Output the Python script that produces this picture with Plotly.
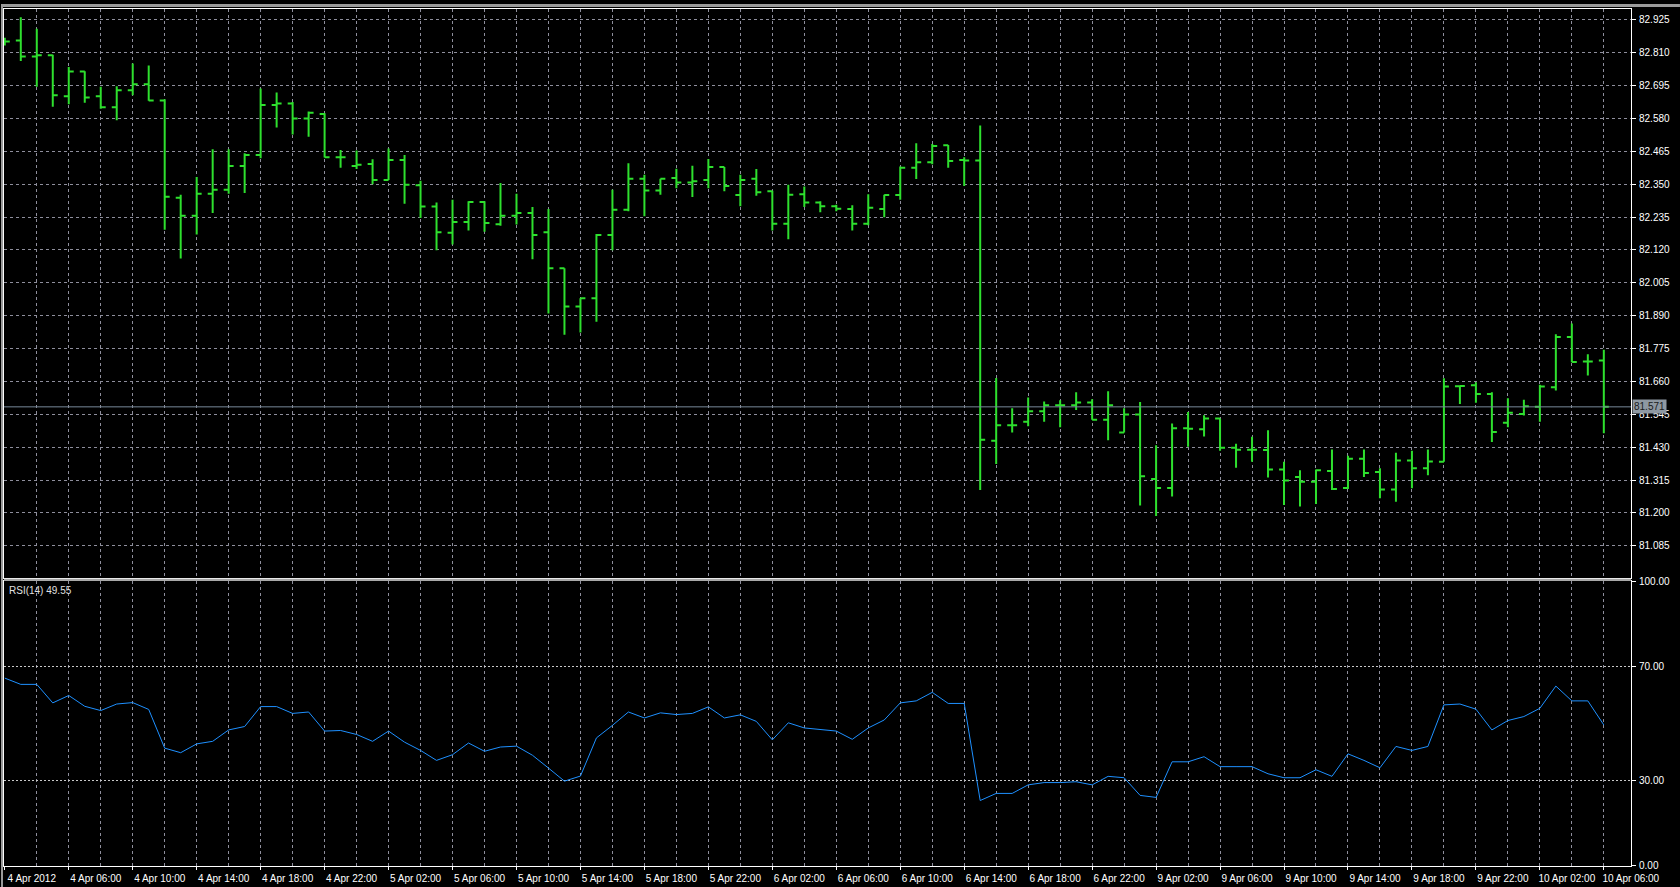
import pandas as pd
import plotly.graph_objects as go
from plotly.subplots import make_subplots

# ---- data (H1 bars) ----
session1 = pd.date_range("2012-04-04 02:00", "2012-04-06 23:00", freq="h")
session2 = pd.date_range("2012-04-09 00:00", "2012-04-10 06:00", freq="h")
times = list(session1) + list(session2)

opens = [82.845, 82.853, 82.797, 82.801, 82.658, 82.744, 82.658, 82.619, 82.679, 82.700,
         82.643, 82.303, 82.240, 82.317, 82.331, 82.414, 82.452, 82.627, 82.632, 82.580,
         82.596, 82.444, 82.414, 82.421, 82.365, 82.435, 82.346, 82.272, 82.180, 82.218,
         82.288, 82.210, 82.240, 82.249, 82.182, 82.056, 81.922, 81.951, 82.172, 82.261,
         82.369, 82.328, 82.372, 82.356, 82.365, 82.410, 82.312, 82.369, 82.325, 82.212,
         82.315, 82.286, 82.273, 82.263, 82.212, 82.263, 82.312, 82.408, 82.427, 82.486,
         82.435, 82.433, 81.452, 81.507, 81.519, 81.556, 81.577, 81.577, 81.586, 81.526,
         81.481, 81.544, 81.319, 81.287, 81.496, 81.493, 81.530, 81.428, 81.421, 81.420,
         81.352, 81.326, 81.309, 81.347, 81.287, 81.389, 81.343, 81.282, 81.383, 81.356,
         81.379, 81.643, 81.647, 81.616, 81.515, 81.546, 81.571, 81.640, 81.815, 81.730,
         81.733]
highs = [82.862, 82.934, 82.894, 82.803, 82.760, 82.745, 82.691, 82.693, 82.772, 82.765,
         82.647, 82.313, 82.375, 82.472, 82.472, 82.458, 82.685, 82.671, 82.638, 82.604,
         82.598, 82.470, 82.468, 82.437, 82.475, 82.452, 82.362, 82.286, 82.296, 82.290,
         82.290, 82.354, 82.317, 82.270, 82.263, 82.056, 81.951, 82.176, 82.331, 82.423,
         82.383, 82.369, 82.404, 82.415, 82.438, 82.410, 82.383, 82.403, 82.327, 82.348,
         82.342, 82.290, 82.278, 82.276, 82.315, 82.313, 82.412, 82.493, 82.491, 82.487,
         82.444, 82.555, 81.672, 81.566, 81.604, 81.590, 81.594, 81.622, 81.598, 81.626,
         81.566, 81.588, 81.437, 81.513, 81.553, 81.542, 81.530, 81.442, 81.466, 81.489,
         81.379, 81.349, 81.352, 81.422, 81.400, 81.422, 81.356, 81.410, 81.417, 81.422,
         81.671, 81.647, 81.657, 81.622, 81.601, 81.596, 81.648, 81.825, 81.863, 81.755,
         81.771]
lows = [82.835, 82.781, 82.691, 82.621, 82.630, 82.635, 82.614, 82.574, 82.661, 82.642,
        82.191, 82.090, 82.174, 82.249, 82.317, 82.319, 82.441, 82.548, 82.524, 82.516,
        82.443, 82.408, 82.403, 82.350, 82.365, 82.282, 82.232, 82.119, 82.139, 82.188,
        82.184, 82.205, 82.209, 82.087, 81.898, 81.823, 81.831, 81.869, 82.119, 82.255,
        82.238, 82.313, 82.336, 82.305, 82.336, 82.325, 82.273, 82.310, 82.188, 82.157,
        82.270, 82.252, 82.255, 82.188, 82.206, 82.234, 82.296, 82.368, 82.420, 82.408,
        82.344, 81.280, 81.371, 81.481, 81.503, 81.519, 81.500, 81.560, 81.526, 81.454,
        81.481, 81.226, 81.189, 81.257, 81.431, 81.467, 81.417, 81.358, 81.379, 81.324,
        81.228, 81.222, 81.231, 81.280, 81.284, 81.326, 81.251, 81.239, 81.286, 81.332,
        81.379, 81.581, 81.585, 81.448, 81.500, 81.541, 81.519, 81.628, 81.727, 81.681,
        81.479]
closes = [82.849, 82.797, 82.801, 82.661, 82.744, 82.653, 82.619, 82.679, 82.700, 82.643,
          82.306, 82.240, 82.317, 82.331, 82.414, 82.452, 82.627, 82.632, 82.580, 82.600,
          82.444, 82.444, 82.418, 82.365, 82.435, 82.348, 82.272, 82.182, 82.218, 82.288,
          82.214, 82.240, 82.249, 82.172, 82.056, 81.922, 81.951, 82.172, 82.261, 82.369,
          82.328, 82.369, 82.356, 82.360, 82.410, 82.344, 82.365, 82.322, 82.212, 82.313,
          82.286, 82.273, 82.264, 82.212, 82.268, 82.312, 82.408, 82.427, 82.484, 82.431,
          82.433, 81.456, 81.507, 81.507, 81.556, 81.577, 81.577, 81.586, 81.526, 81.577,
          81.544, 81.328, 81.287, 81.496, 81.494, 81.530, 81.428, 81.421, 81.421, 81.352,
          81.313, 81.309, 81.349, 81.284, 81.389, 81.340, 81.282, 81.383, 81.356, 81.380,
          81.642, 81.644, 81.616, 81.483, 81.550, 81.573, 81.642, 81.815, 81.728, 81.730,
          81.571]
rsi = [66.0, 63.8, 63.8, 57.3, 59.9, 56.1, 54.6, 56.9, 57.4, 55.0,
       41.4, 39.8, 42.9, 43.8, 47.8, 49.0, 56.0, 56.0, 53.6, 54.1,
       47.4, 47.6, 46.2, 43.8, 47.4, 43.5, 40.6, 37.1, 39.1, 43.2,
       40.3, 41.8, 42.1, 38.9, 34.4, 29.8, 31.6, 45.0, 49.4, 54.1,
       52.0, 53.8, 53.2, 53.6, 55.9, 52.0, 53.1, 50.8, 44.3, 50.3,
       48.5, 48.0, 47.4, 44.5, 48.5, 51.3, 57.3, 58.0, 61.0, 57.1,
       57.1, 23.0, 25.5, 25.5, 28.5, 29.3, 29.3, 29.6, 28.5, 31.5,
       31.0, 24.8, 24.1, 36.6, 36.6, 38.4, 34.9, 34.9, 34.9, 32.4,
       31.0, 31.0, 33.8, 31.5, 39.4, 37.1, 34.5, 42.0, 40.6, 42.0,
       56.6, 56.9, 55.1, 47.8, 51.1, 52.5, 55.4, 63.2, 58.0, 58.0, 49.55]

price_ticks = [round(81.085 + 0.115 * k, 3) for k in range(17)]
rsi_ticks = [0, 30, 70, 100]
last_price = closes[-1]

# ---- styling ----
GREEN = "#2ee02e"
GRID = "#8e8e9c"
FONT = "Liberation Sans"
W, H = 1680, 887
ML, MR, MT, MB = 3, 49, 5, 21
PH = H - MT - MB

xidx = list(range(len(times)))
label_idx = xidx[::4]
label_txt = []
for i in label_idx:
    t = times[i]
    if i == 0:
        label_txt.append(f"{t.day} {t:%b} {t.year}")
    else:
        label_txt.append(f"{t.day} {t:%b} {t:%H:%M}")

fig = make_subplots(rows=2, cols=1, shared_xaxes=True)

fig.add_trace(go.Ohlc(x=xidx, open=opens, high=highs, low=lows, close=closes,
                      increasing_line_color=GREEN, decreasing_line_color=GREEN,
                      line_width=2, tickwidth=0.31, showlegend=False,
                      hoverinfo="skip"), row=1, col=1)
fig.add_trace(go.Scatter(x=xidx, y=rsi, mode="lines",
                         line=dict(color="#1e90ff", width=1),
                         showlegend=False, hoverinfo="skip"), row=2, col=1)

xrange = [-0.05, len(times) + 0.7]
main_bottom = (H - MB - 577) / PH
rsi_top = (H - MB - 580) / PH

common_x = dict(range=xrange, showline=True, mirror=True, linecolor="white", linewidth=1,
                zeroline=False, showgrid=True, gridcolor=GRID, griddash="3px,3px",
                gridwidth=1, tickvals=label_idx,
                minor=dict(dtick=2, tick0=0, showgrid=True, gridcolor=GRID,
                           griddash="3px,3px", gridwidth=1, ticks=""))
fig.update_layout(
    width=W, height=H,
    margin=dict(l=ML, r=MR, t=MT, b=MB),
    paper_bgcolor="black", plot_bgcolor="black",
    font=dict(family=FONT, size=10, color="white"),
    xaxis=dict(**common_x, domain=[0, 1], showticklabels=False, ticks="",
               rangeslider=dict(visible=False)),
    xaxis2=dict(**common_x, domain=[0, 1], ticktext=label_txt, ticks="outside",
                ticklen=3, tickcolor="white", tickfont=dict(size=10, color="white"),
                ticklabelshift=27, ticklabelstandoff=0),
    yaxis=dict(domain=[main_bottom, 1], side="right", range=[80.971, 82.963],
               tickvals=price_ticks, ticktext=[f"{v:.3f}" for v in price_ticks],
               ticks="outside", ticklen=4, tickcolor="white",
               showline=True, mirror=True, linecolor="white", linewidth=1,
               showgrid=True, gridcolor=GRID, griddash="3px,3px", zeroline=False,
               tickfont=dict(size=10, color="white"), ticklabelstandoff=1),
    yaxis2=dict(domain=[0, rsi_top], side="right", range=[0, 100],
                tickvals=rsi_ticks, ticktext=[f"{v:.2f}" for v in rsi_ticks],
                ticks="outside", ticklen=4, tickcolor="white",
                showline=True, mirror=True, linecolor="white", linewidth=1,
                showgrid=True, gridcolor="#c8c8c8", griddash="2px,2px", zeroline=False,
                tickfont=dict(size=10, color="white"), ticklabelstandoff=1),
)

# current price line and label
fig.add_shape(type="line", xref="x domain", yref="y", x0=0, x1=1,
              y0=last_price, y1=last_price, line=dict(color="#778899", width=1))
fig.add_annotation(xref="paper", yref="y", x=1, y=last_price, xanchor="left",
                   xshift=1, text=f"{last_price:.3f}", showarrow=False,
                   bgcolor="#8e98a2", font=dict(size=10, color="#1a1a1a"),
                   borderpad=1)
# RSI label
fig.add_annotation(xref="paper", yref="paper", x=0, y=rsi_top, xanchor="left",
                   yanchor="top", xshift=3, yshift=-2,
                   text=f"RSI(14) {rsi[-1]:.2f}", showarrow=False,
                   font=dict(size=10, color="#e0e0e0"))
# pane separator
fig.add_shape(type="rect", xref="paper", yref="paper", x0=0, x1=1,
              y0=rsi_top + 0.4 / PH, y1=main_bottom - 0.4 / PH,
              fillcolor="#a8a8a8", line=dict(width=0), layer="above")
# window frame (gray)
fig.add_shape(type="rect", xref="paper", yref="paper",
              x0=-ML / (W - ML - MR), x1=-1 / (W - ML - MR),
              y0=-MB / PH, y1=(PH + MT) / PH,
              fillcolor="#9a9a9a", line=dict(width=0))
fig.add_shape(type="rect", xref="paper", yref="paper",
              x0=-ML / (W - ML - MR), x1=(W - ML) / (W - ML - MR),
              y0=(PH + 2) / PH, y1=(PH + MT) / PH,
              fillcolor="#9a9a9a", line=dict(width=0))

fig.write_html("out.html",
               config={"displayModeBar": False},
               post_script="document.body.style.margin='0';"
                           "document.body.style.background='black';")
